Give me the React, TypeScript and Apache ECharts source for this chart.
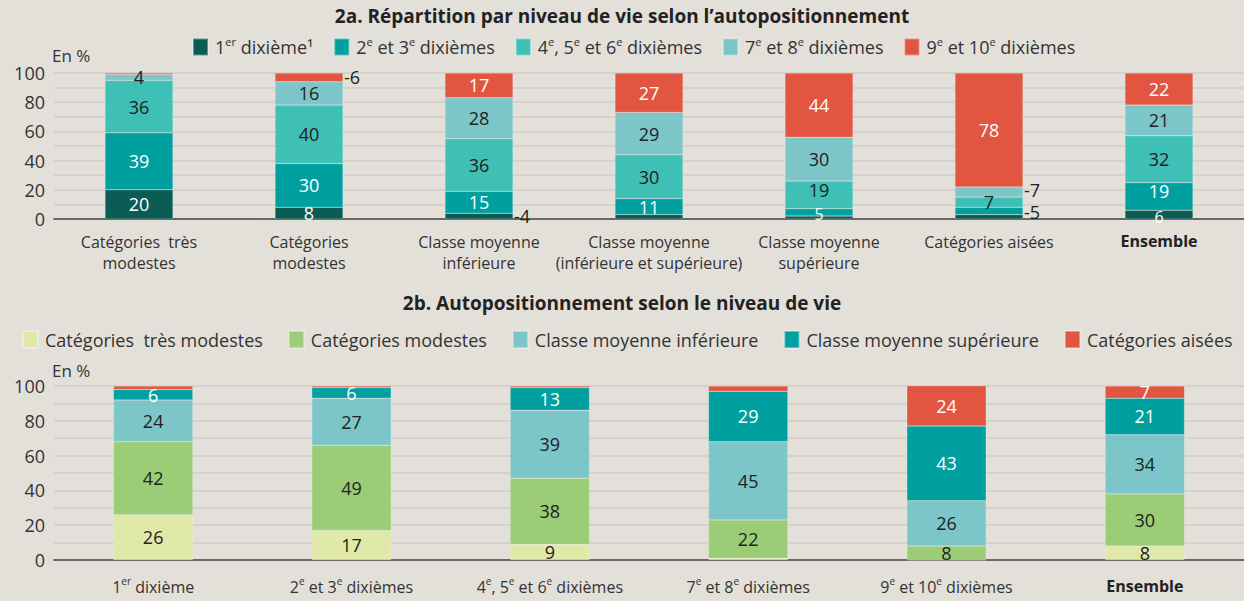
import React, { useEffect, useRef } from 'react';
import * as echarts from 'echarts';

// ---- Data (2a) ----
const catsA = [
  'Catégories  très\nmodestes',
  'Catégories\nmodestes',
  'Classe moyenne\ninférieure',
  'Classe moyenne\n(inférieure et supérieure)',
  'Classe moyenne\nsupérieure',
  'Catégories aisées',
  'Ensemble',
];
const seriesA = ['1er dixième¹', '2e et 3e dixièmes', '4e, 5e et 6e dixièmes', '7e et 8e dixièmes', '9e et 10e dixièmes'];
const aD1 = [20, 8, 4, 3, 2, 3, 6];
const aD23 = [39, 30, 15, 11, 5, 5, 19];
const aD456 = [36, 40, 36, 30, 19, 7, 32];
const aD78 = [4, 16, 28, 29, 30, 7, 21];
const aD910 = [1, 6, 17, 27, 44, 78, 22];

// ---- Data (2b) ----
const catsB = ['1er dixième', '2e et 3e dixièmes', '4e, 5e et 6e dixièmes', '7e et 8e dixièmes', '9e et 10e dixièmes', 'Ensemble'];
const seriesB = ['Catégories  très modestes', 'Catégories modestes', 'Classe moyenne inférieure', 'Classe moyenne supérieure', 'Catégories aisées'];
const bTresModestes = [26, 17, 9, 1, 0, 8];
const bModestes = [42, 49, 38, 22, 8, 30];
const bCmInf = [24, 27, 39, 45, 26, 34];
const bCmSup = [6, 6, 13, 29, 43, 21];
const bAisees = [2, 1, 1, 3, 24, 7];

const yMin = 0;
const yMax = 100;
const yStep = 10;
const yLabelStep = 20;

// label placement specials for 2a: [seriesIndex, categoryIndex, dy, fontSize]
const outsideA = [[0, 2, 0], [4, 1, 0], [1, 5, 1], [3, 5, -2]];
const hiddenA = [[0, 3], [0, 4], [0, 5], [4, 0]];
const nudgedA = [[2, 4, -5, 18], [1, 6, -5, 18], [1, 4, 2, 16], [0, 6, 2, 16]];

const FONT = 'Open Sans';
const colorsA = ['#0b5c54', '#00a0a1', '#3fc0b6', '#7cc6c9', '#e15541'];
const labelColA = ['#ffffff', '#ffffff', '#222222', '#222222', '#ffffff'];
const colorsB = ['#e1e9a8', '#9acd75', '#7cc6c9', '#00a0a1', '#e15541'];
const labelColB = ['#222222', '#222222', '#222222', '#ffffff', '#ffffff'];

const sup = (s: string) => s.replace(/(\d+)(er|e)(?=[\s,]|$)/g, '$1{s|$2}');

const richBase = (size: number) => ({
  s: { fontSize: Math.round(size * 0.6), fontFamily: FONT, color: '#333', verticalAlign: 'top', lineHeight: size + 4 },
  b: { fontSize: size, fontFamily: FONT, color: '#222', fontWeight: 'bold', lineHeight: size + 4 },
});

export default function App() {
  const ref = useRef<HTMLDivElement>(null);
  useEffect(() => {
    if (!ref.current) return;
    const chart = echarts.init(ref.current, null, { renderer: 'svg' });
    const valsA = [aD1, aD23, aD456, aD78, aD910];
    const valsB = [bTresModestes, bModestes, bCmInf, bCmSup, bAisees];

    const find = (list: number[][], s: number, c: number) => list.find((e) => e[0] === s && e[1] === c);

    const seriesListA = valsA.map((vals, si) => ({
      name: seriesA[si],
      type: 'bar',
      stack: 'a',
      xAxisIndex: 0,
      yAxisIndex: 0,
      barWidth: '40%',
      itemStyle: { color: colorsA[si], borderColor: 'rgba(255,255,255,0.35)', borderWidth: 0.5 },
      label: {
        show: true,
        position: 'inside',
        color: labelColA[si],
        fontSize: 18,
        lineHeight: 18,
        fontFamily: FONT,
      },
      data: vals.map((v, ci) => {
        if (find(hiddenA, si, ci)) return { value: v, label: { show: false } };
        const o = find(outsideA, si, ci);
        if (o)
          return {
            value: v,
            label: { show: true, position: 'right', distance: 1, color: '#222', formatter: '-{c}', offset: [0, o[2]] },
          };
        const n = find(nudgedA, si, ci);
        if (n) return { value: v, label: { offset: [0, n[2]], fontSize: n[3], lineHeight: n[3] } };
        return v;
      }),
    }));

    const seriesListB = valsB.map((vals, si) => ({
      name: seriesB[si],
      type: 'bar',
      stack: 'b',
      xAxisIndex: 1,
      yAxisIndex: 1,
      barWidth: '40%',
      itemStyle: { color: colorsB[si], borderColor: 'rgba(255,255,255,0.35)', borderWidth: 0.5 },
      label: {
        show: true,
        position: 'inside',
        color: labelColB[si],
        fontSize: 18,
        lineHeight: 18,
        fontFamily: FONT,
      },
      data: vals.map((v) => (v < 5 ? { value: v, label: { show: false } } : v)),
    }));

    const yAxisCommon = {
      type: 'value',
      min: yMin,
      max: yMax,
      interval: yStep,
      axisLine: { show: false },
      axisTick: { show: false },
      axisLabel: {
        color: '#333',
        fontSize: 18,
        fontFamily: FONT,
        margin: 9,
        formatter: (v: number) => (v % yLabelStep === 0 ? String(v) : ''),
      },
      splitLine: { show: true, lineStyle: { color: '#d2cdc7', width: 1.5 } },
    };

    const xAxisCommon = {
      type: 'category',
      axisLine: { show: true, lineStyle: { color: '#444', width: 1.5 } },
      axisTick: { show: false },
    };

    chart.setOption({
      animation: false,
      backgroundColor: '#e3dfd9',
      textStyle: { fontFamily: FONT },
      title: [
        {
          text: '2a. Répartition par niveau de vie selon l’autopositionnement',
          left: 'center',
          top: 1,
          textStyle: { fontSize: 19, fontWeight: 'bold', color: '#222', fontFamily: FONT },
        },
        {
          text: '2b. Autopositionnement selon le niveau de vie',
          left: 'center',
          top: 288,
          textStyle: { fontSize: 19, fontWeight: 'bold', color: '#222', fontFamily: FONT },
        },
      ],
      legend: [
        {
          data: seriesA,
          left: 187,
          top: 31,
          icon: 'rect',
          itemWidth: 15,
          itemHeight: 17,
          itemGap: 20,
          formatter: (n: string) => sup(n),
          textStyle: { fontSize: 18, color: '#333', fontFamily: FONT, padding: [0, 0, 0, 2], rich: richBase(18) },
        },
        {
          data: seriesB,
          left: 17,
          top: 325,
          icon: 'rect',
          itemWidth: 15,
          itemHeight: 17,
          itemGap: 25,
          textStyle: { fontSize: 18, color: '#333', fontFamily: FONT, padding: [0, 0, 0, 2] },
        },
      ],
      grid: [
        { left: 54, right: 0, top: 73, height: 146 },
        { left: 54, right: 0, top: 386, height: 174 },
      ],
      xAxis: [
        {
          ...xAxisCommon,
          gridIndex: 0,
          data: catsA,
          axisLabel: {
            color: '#333',
            fontSize: 16,
            lineHeight: 21,
            fontFamily: FONT,
            margin: 12,
            interval: 0,
            formatter: (v: string) => (v === 'Ensemble' ? '{b|Ensemble}' : v),
            rich: richBase(16),
          },
        },
        {
          ...xAxisCommon,
          gridIndex: 1,
          data: catsB,
          axisLabel: {
            color: '#333',
            fontSize: 16,
            lineHeight: 21,
            fontFamily: FONT,
            margin: 16,
            interval: 0,
            formatter: (v: string) => (v === 'Ensemble' ? '{b|Ensemble}' : sup(v)),
            rich: richBase(16),
          },
        },
      ],
      yAxis: [
        { ...yAxisCommon, gridIndex: 0 },
        { ...yAxisCommon, gridIndex: 1 },
      ],
      graphic: [
        { type: 'text', left: 52, top: 47, style: { text: 'En %', fontSize: 17, fill: '#333', fontFamily: FONT } },
        { type: 'text', left: 52, top: 362, style: { text: 'En %', fontSize: 17, fill: '#333', fontFamily: FONT } },
      ],
      series: [...seriesListA, ...seriesListB],
    });
    return () => chart.dispose();
  }, []);
  return <div ref={ref} style={{ position: 'fixed', left: 0, top: 0, width: 1244, height: 601 }} />;
}
